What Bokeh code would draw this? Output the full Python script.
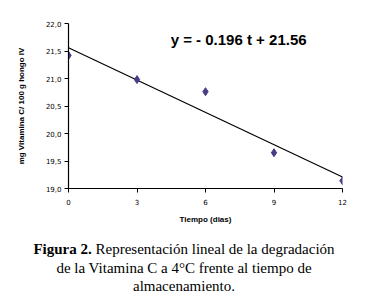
from bokeh.plotting import figure
from bokeh.models import Label, Div, FixedTicker, Range1d
from bokeh.layouts import column
from bokeh.embed import file_html
from bokeh.resources import INLINE

# data
days = [0, 3, 6, 9, 12]
vit_c = [21.42, 20.98, 20.76, 19.65, 19.14]
trend_t = [0, 12]
trend_y = [21.56, 21.56 - 0.196 * 12]
x_ticks = [0, 3, 6, 9, 12]
y_ticks = [19.0, 19.5, 20.0, 20.5, 21.0, 21.5, 22.0]
y_tick_labels = ["19,0", "19,5", "20,0", "20,5", "21,0", "21,5", "22,0"]
equation = "y = - 0.196 t + 21.56"
x_title = "Tiempo (dias)"
y_title = "mg Vitamina C/ 100 g hongo IV"

p = figure(width=348, height=226, output_backend="svg", toolbar_location=None,
           x_range=Range1d(0, 12), y_range=Range1d(19, 22),
           min_border_left=60, min_border_right=14, min_border_top=16, min_border_bottom=45,
           margin=(7, 0, 0, 8))
p.grid.visible = False
p.outline_line_color = None
p.background_fill_color = "white"
p.border_fill_color = "white"

p.line(trend_t, trend_y, line_color="black", line_width=1.2)
p.scatter(days, vit_c, marker="diamond", size=8, fill_color="#4B3B87", line_color="#4B3B87")

for ax in (p.xaxis[0], p.yaxis[0]):
    ax.axis_line_color = "black"
    ax.axis_line_width = 1.2
    ax.major_tick_line_color = "black"
    ax.major_tick_in = 0
    ax.major_tick_out = 4
    ax.minor_tick_line_color = None
    ax.major_label_text_font = "DejaVu Sans"
    ax.major_label_text_font_size = "7px"
    ax.major_label_text_color = "black"
    ax.axis_label_text_font = "Liberation Sans"
    ax.axis_label_text_font_size = "8px"
    ax.axis_label_text_font_style = "bold"
    ax.axis_label_text_color = "black"

p.xaxis.ticker = FixedTicker(ticks=x_ticks)
p.yaxis.ticker = FixedTicker(ticks=y_ticks)
p.yaxis.major_label_overrides = {t: l for t, l in zip(y_ticks, y_tick_labels)}
p.xaxis.axis_label = x_title
p.yaxis.axis_label = y_title
p.xaxis.major_label_standoff = 6
p.yaxis.major_label_standoff = 3
p.xaxis.axis_label_standoff = 7
p.yaxis.axis_label_standoff = 17

p.add_layout(Label(x=7.45, y=21.71, text=equation, text_align="center", text_baseline="middle",
                   text_font="Liberation Sans", text_font_style="bold", text_font_size="15px",
                   text_color="black"))

caption = Div(text='<b>Figura 2.</b> Representación lineal de la degradación<br>'
                   'de la Vitamina C a 4°C frente al tiempo de<br>almacenamiento.',
              width=358,
              styles={"font-family": "'Liberation Serif', serif", "font-size": "15px",
                      "line-height": "18.5px", "text-align": "center", "color": "black",
                      "margin-top": "7px"})

layout = column(p, caption, spacing=0)
open("out.html", "w").write(file_html(layout, INLINE))
